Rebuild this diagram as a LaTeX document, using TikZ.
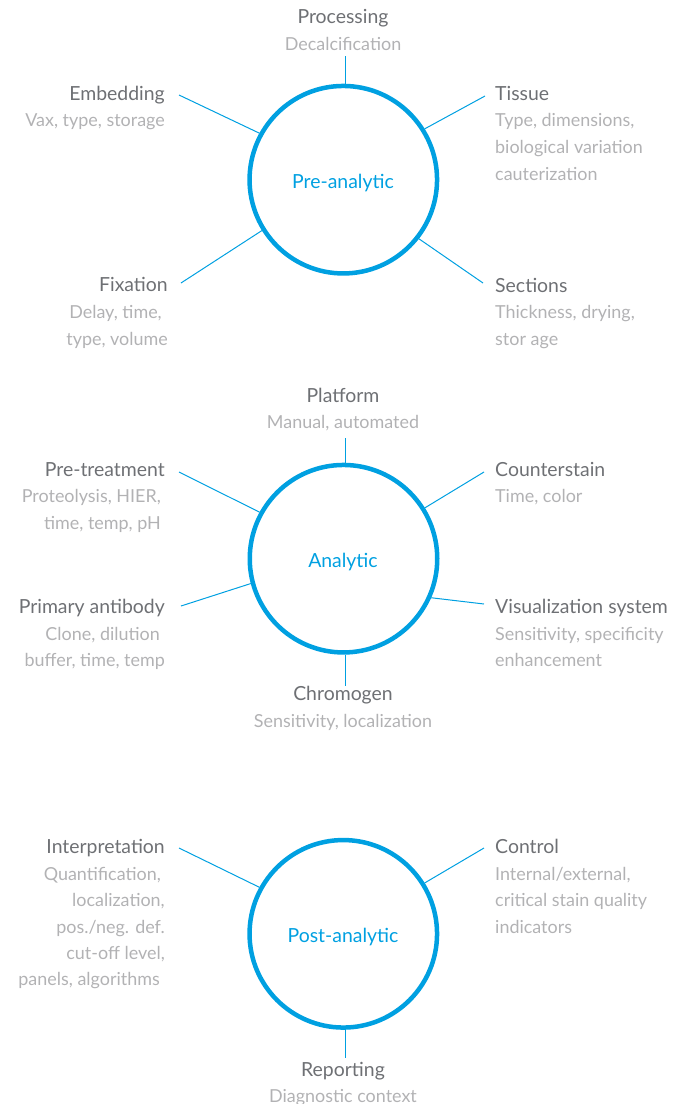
\documentclass[tikz,border=0pt]{standalone}
\usepackage{fontspec}
\setmainfont{Lato}
\definecolor{cblue}{RGB}{0,160,225}
\definecolor{tgray}{RGB}{110,112,116}
\definecolor{sgray}{RGB}{178,178,180}
\begin{document}
\begin{tikzpicture}[x=1bp,y=-1bp,
  ring/.style={draw=cblue,line width=4.5bp,circle,minimum size=187.5bp,inner sep=0},
  rlabel/.style={text=cblue,font=\fontsize{19.5}{22}\selectfont,inner sep=0},
  conn/.style={draw=cblue,line width=1bp},
  ttl/.style={text=tgray,font=\fontsize{19.5}{22}\selectfont,inner sep=0},
  sub/.style={text=sgray,font=\fontsize{18}{22}\selectfont,inner sep=0}]
\useasboundingbox (0,0) rectangle (681,1104);
% ---------- Pre-analytic
\node[ring] (c1) at (343.3,179.7) {};
\node[rlabel] (l1) at (343,183) {Pre-analytic};
\node[ttl,anchor=base] (t1a) at (343,23) {Processing};
\node[sub,anchor=base] (s1a) at (343,50) {Decalcification};
\coordinate (p1a) at (345,56);
\draw[conn] (p1a) -- (p1a |- c1.north);
\node[ttl,anchor=base east] (t1b) at (165,100) {Embedding};
\node[sub,anchor=base east] (s1b) at (165,126) {Vax, type, storage};
\coordinate (p1b) at (179,95);
\draw[conn] (p1b) -- (c1.151);
\node[ttl,anchor=base west] (t1c) at (495,100) {Tissue};
\node[sub,anchor=base west] (s1c1) at (495,126) {Type, dimensions,};
\node[sub,anchor=base west] (s1c2) at (495,153) {biological variation};
\node[sub,anchor=base west] (s1c3) at (495,180) {cauterization};
\coordinate (p1c) at (485,96);
\draw[conn] (p1c) -- (c1.32);
\node[ttl,anchor=base east] (t1d) at (168,291) {Fixation};
\node[sub,anchor=base east] (s1d1) at (162,318) {Delay, time,};
\node[sub,anchor=base east] (s1d2) at (168,345) {type, volume};
\coordinate (p1d) at (181,283);
\draw[conn] (p1d) -- (c1.212);
\node[ttl,anchor=base west] (t1e) at (495,292) {Sections};
\node[sub,anchor=base west] (s1e1) at (495,318) {Thickness, drying,};
\node[sub,anchor=base west] (s1e2) at (495,345) {stor age};
\coordinate (p1e) at (483,283);
\draw[conn] (p1e) -- (c1.-38);
% ---------- Analytic
\node[ring] (c2) at (343.5,558.7) {};
\node[rlabel] (l2) at (343,562) {Analytic};
\node[ttl,anchor=base] (t2a) at (343,402) {Platform};
\node[sub,anchor=base] (s2a) at (343,428) {Manual, automated};
\coordinate (p2a) at (345,438);
\draw[conn] (p2a) -- (p2a |- c2.north);
\node[ttl,anchor=base east] (t2b) at (165,476) {Pre-treatment};
\node[sub,anchor=base east] (s2b1) at (161,502) {Proteolysis, HIER,};
\node[sub,anchor=base east] (s2b2) at (161,529) {time, temp, pH};
\coordinate (p2b) at (179,472);
\draw[conn] (p2b) -- (c2.151);
\node[ttl,anchor=base west] (t2c) at (495,476) {Counterstain};
\node[sub,anchor=base west] (s2c) at (495,502) {Time, color};
\coordinate (p2c) at (484,472);
\draw[conn] (p2c) -- (c2.32);
\node[ttl,anchor=base east] (t2d) at (165,613) {Primary antibody};
\node[sub,anchor=base east] (s2d1) at (160,640) {Clone, dilution};
\node[sub,anchor=base east] (s2d2) at (165,666) {buffer, time, temp};
\coordinate (p2d) at (181,606);
\draw[conn] (p2d) -- (c2.195);
\node[ttl,anchor=base west] (t2e) at (495,613) {Visualization system};
\node[sub,anchor=base west] (s2e1) at (495,640) {Sensitivity, specificity};
\node[sub,anchor=base west] (s2e2) at (495,666) {enhancement};
\coordinate (p2e) at (484,604);
\draw[conn] (p2e) -- (c2.-24);
\node[ttl,anchor=base] (t2f) at (343,700) {Chromogen};
\node[sub,anchor=base] (s2f) at (343,727) {Sensitivity, localization};
\coordinate (p2f) at (345,686);
\draw[conn] (p2f |- c2.south) -- (p2f);
% ---------- Post-analytic
\node[ring] (c3) at (343.3,933.8) {};
\node[rlabel] (l3) at (343,937) {Post-analytic};
\node[ttl,anchor=base east] (t3a) at (165,853) {Interpretation};
\node[sub,anchor=base east] (s3a1) at (161,880) {Quantification,};
\node[sub,anchor=base east] (s3a2) at (165,906) {localization,};
\node[sub,anchor=base east] (s3a3) at (165,933) {pos./neg. def.};
\node[sub,anchor=base east] (s3a4) at (165,959) {cut-off level,};
\node[sub,anchor=base east] (s3a5) at (160,985) {panels, algorithms};
\coordinate (p3a) at (179,848);
\draw[conn] (p3a) -- (c3.151);
\node[ttl,anchor=base west] (t3b) at (495,853) {Control};
\node[sub,anchor=base west] (s3b1) at (495,880) {Internal/external,};
\node[sub,anchor=base west] (s3b2) at (495,906) {critical stain quality};
\node[sub,anchor=base west] (s3b3) at (495,933) {indicators};
\coordinate (p3b) at (484,848);
\draw[conn] (p3b) -- (c3.32);
\node[ttl,anchor=base] (t3c) at (343,1076) {Reporting};
\node[sub,anchor=base] (s3c) at (343,1102) {Diagnostic context};
\coordinate (p3c) at (345,1058);
\draw[conn] (p3c |- c3.south) -- (p3c);
\end{tikzpicture}
\end{document}
